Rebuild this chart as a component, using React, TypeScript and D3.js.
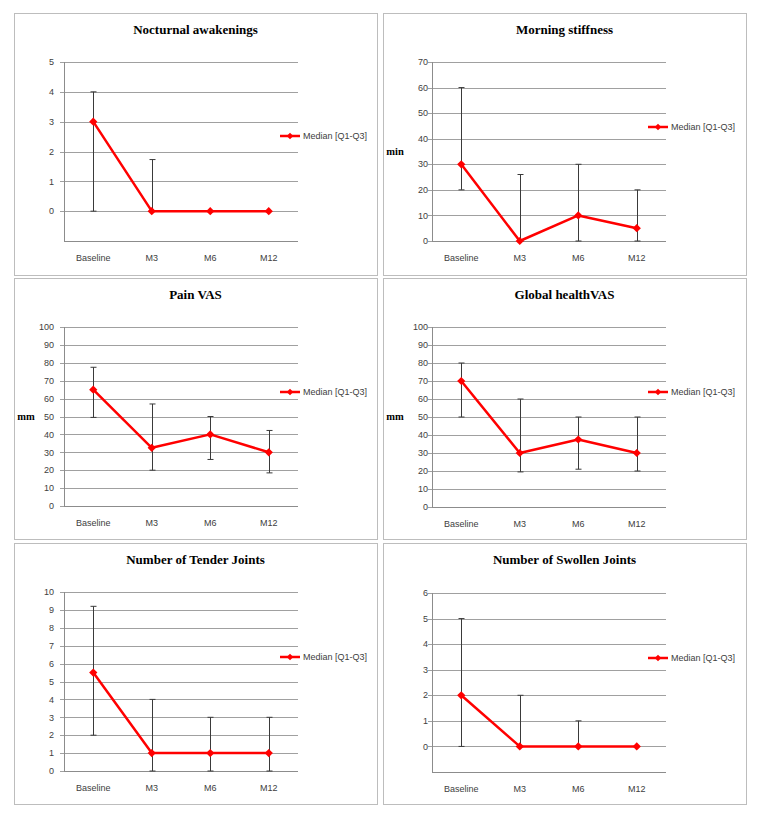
import React from 'react';
import * as d3 from 'd3';

const categories = ['Baseline', 'M3', 'M6', 'M12'];

const nocturnalMedian = [3, 0, 0, 0];
const nocturnalQ1 = [0, 0, 0, 0];
const nocturnalQ3 = [4, 1.73, 0, 0];
const nocturnalTicks = [0, 1, 2, 3, 4, 5];

const stiffnessMedian = [30, 0, 10, 5];
const stiffnessQ1 = [20, 0, 0, 0];
const stiffnessQ3 = [60, 26, 30, 20];
const stiffnessTicks = [0, 10, 20, 30, 40, 50, 60, 70];

const painMedian = [65, 32.5, 40, 30];
const painQ1 = [49.5, 20, 26, 18.5];
const painQ3 = [77.5, 57, 50, 42.2];
const vasTicks = [0, 10, 20, 30, 40, 50, 60, 70, 80, 90, 100];

const globalMedian = [70, 30, 37.5, 30];
const globalQ1 = [50, 19.5, 21, 20];
const globalQ3 = [80, 60, 50, 50];

const tenderMedian = [5.5, 1, 1, 1];
const tenderQ1 = [2, 0, 0, 0];
const tenderQ3 = [9.2, 4, 3, 3];
const tenderTicks = [0, 1, 2, 3, 4, 5, 6, 7, 8, 9, 10];

const swollenMedian = [2, 0, 0, 0];
const swollenQ1 = [0, 0, 0, 0];
const swollenQ3 = [5, 2, 1, 0];
const swollenTicks = [0, 1, 2, 3, 4, 5, 6];

const legendLabel = 'Median [Q1-Q3]';

interface PanelDef {
  title: string;
  unit: string;
  median: number[];
  q1: number[];
  q3: number[];
  ticks: number[];
  domain: [number, number];
  bx: number; by: number; bw: number; bh: number;
  left: number; right: number; top: number; bottom: number;
  labelGap: number;
  legendY: number;
  unitX: number;
}

const panels: PanelDef[] = [
  { title: 'Nocturnal awakenings', unit: '', median: nocturnalMedian, q1: nocturnalQ1, q3: nocturnalQ3, ticks: nocturnalTicks, domain: [-1, 5],
    bx: 14, by: 13, bw: 363, bh: 262, left: 64, right: 298, top: 62, bottom: 241, labelGap: 10, legendY: 136, unitX: 0 },
  { title: 'Morning stiffness', unit: 'min', median: stiffnessMedian, q1: stiffnessQ1, q3: stiffnessQ3, ticks: stiffnessTicks, domain: [0, 70],
    bx: 383, by: 13, bw: 363, bh: 262, left: 432, right: 666, top: 62, bottom: 241, labelGap: 4, legendY: 127, unitX: 395 },
  { title: 'Pain VAS', unit: 'mm', median: painMedian, q1: painQ1, q3: painQ3, ticks: vasTicks, domain: [0, 100],
    bx: 14, by: 278, bw: 363, bh: 261, left: 64, right: 298, top: 327, bottom: 506, labelGap: 10, legendY: 392, unitX: 26 },
  { title: 'Global healthVAS', unit: 'mm', median: globalMedian, q1: globalQ1, q3: globalQ3, ticks: vasTicks, domain: [0, 100],
    bx: 383, by: 278, bw: 363, bh: 261, left: 432, right: 666, top: 327, bottom: 507, labelGap: 4, legendY: 392, unitX: 395 },
  { title: 'Number of Tender Joints', unit: '', median: tenderMedian, q1: tenderQ1, q3: tenderQ3, ticks: tenderTicks, domain: [0, 10],
    bx: 14, by: 543, bw: 363, bh: 261, left: 64, right: 298, top: 592, bottom: 771, labelGap: 10, legendY: 657, unitX: 0 },
  { title: 'Number of Swollen Joints', unit: '', median: swollenMedian, q1: swollenQ1, q3: swollenQ3, ticks: swollenTicks, domain: [-1, 6],
    bx: 383, by: 543, bw: 363, bh: 261, left: 432, right: 666, top: 593, bottom: 772, labelGap: 4, legendY: 658, unitX: 0 },
];

const sans = "'Liberation Sans', Arial, sans-serif";
const serif = "'Liberation Serif', 'Times New Roman', serif";
const textColor = '#404040';

const diamond = d3.symbol().type(d3.symbolSquare).size(34)() as string;
const diamondSmall = d3.symbol().type(d3.symbolSquare).size(22)() as string;

function Panel({ p }: { p: PanelDef }) {
  const x = d3.scalePoint<string>().domain(categories).range([p.left, p.right]).padding(0.5);
  const y = d3.scaleLinear().domain(p.domain).range([p.bottom, p.top]);
  const line = d3.line<number>().x((_, i) => x(categories[i]) as number).y((d) => y(d));
  const cx = p.bx + p.bw / 2;
  const cap = 3;
  return (
    <g>
      <rect x={p.bx + 0.5} y={p.by + 0.5} width={p.bw} height={p.bh} fill="#fff" stroke="#bdbdbd" strokeWidth={1} />
      <text x={cx} y={p.by + 21} textAnchor="middle" fontFamily={serif} fontWeight="bold" fontSize={13} fill="#000">{p.title}</text>
      {p.ticks.map((t) => (
        <g key={t}>
          <line x1={p.left - 4} x2={p.right} y1={Math.round(y(t)) + 0.5} y2={Math.round(y(t)) + 0.5} stroke="#a0a0a0" strokeWidth={1} />
          <text x={p.left - p.labelGap} y={y(t) + 3.2} textAnchor="end" fontFamily={sans} fontSize={9} fill={textColor}>{t}</text>
        </g>
      ))}
      <line x1={p.left + 0.5} x2={p.left + 0.5} y1={p.top} y2={p.bottom} stroke="#8c8c8c" strokeWidth={1} />
      <line x1={p.left} x2={p.right} y1={p.bottom + 0.5} y2={p.bottom + 0.5} stroke="#8c8c8c" strokeWidth={1} />
      {categories.map((c) => (
        <text key={c} x={x(c)} y={p.bottom + 20} textAnchor="middle" fontFamily={sans} fontSize={9} fill={textColor}>{c}</text>
      ))}
      {p.unit && (
        <text x={p.unitX} y={(p.top + p.bottom) / 2 + 3} textAnchor="middle" fontFamily={serif} fontWeight="bold" fontSize={10.5} fill="#000">{p.unit}</text>
      )}
      {categories.map((c, i) => {
        const xx = Math.round(x(c) as number) + 0.5;
        const y1 = y(p.q1[i]);
        const y3 = y(p.q3[i]);
        if (p.q3[i] === p.q1[i]) return null;
        return (
          <g key={'e' + c} stroke="#3a3a3a" strokeWidth={1}>
            <line x1={xx} x2={xx} y1={y1} y2={y3} />
            <line x1={xx - cap} x2={xx + cap} y1={y1} y2={y1} />
            <line x1={xx - cap} x2={xx + cap} y1={y3} y2={y3} />
          </g>
        );
      })}
      <path d={line(p.median) as string} fill="none" stroke="#ff0000" strokeWidth={2.5} strokeLinejoin="round" />
      {p.median.map((v, i) => (
        <path key={'m' + i} d={diamond} transform={`translate(${x(categories[i])},${y(v)}) rotate(45)`} fill="#ff0000" />
      ))}
      <line x1={p.right - 18} x2={p.right + 2} y1={p.legendY} y2={p.legendY} stroke="#ff0000" strokeWidth={2.5} />
      <path d={diamondSmall} transform={`translate(${p.right - 8},${p.legendY}) rotate(45)`} fill="#ff0000" />
      <text x={p.right + 5} y={p.legendY + 3.2} fontFamily={sans} fontSize={9} fill={textColor}>{legendLabel}</text>
    </g>
  );
}

export default function App() {
  return (
    <svg width={757} height={817} style={{ position: 'absolute', left: 0, top: 0, background: '#fff' }}>
      <rect x={0} y={0} width={757} height={817} fill="#fff" />
      {panels.map((p) => (
        <Panel key={p.title} p={p} />
      ))}
    </svg>
  );
}
